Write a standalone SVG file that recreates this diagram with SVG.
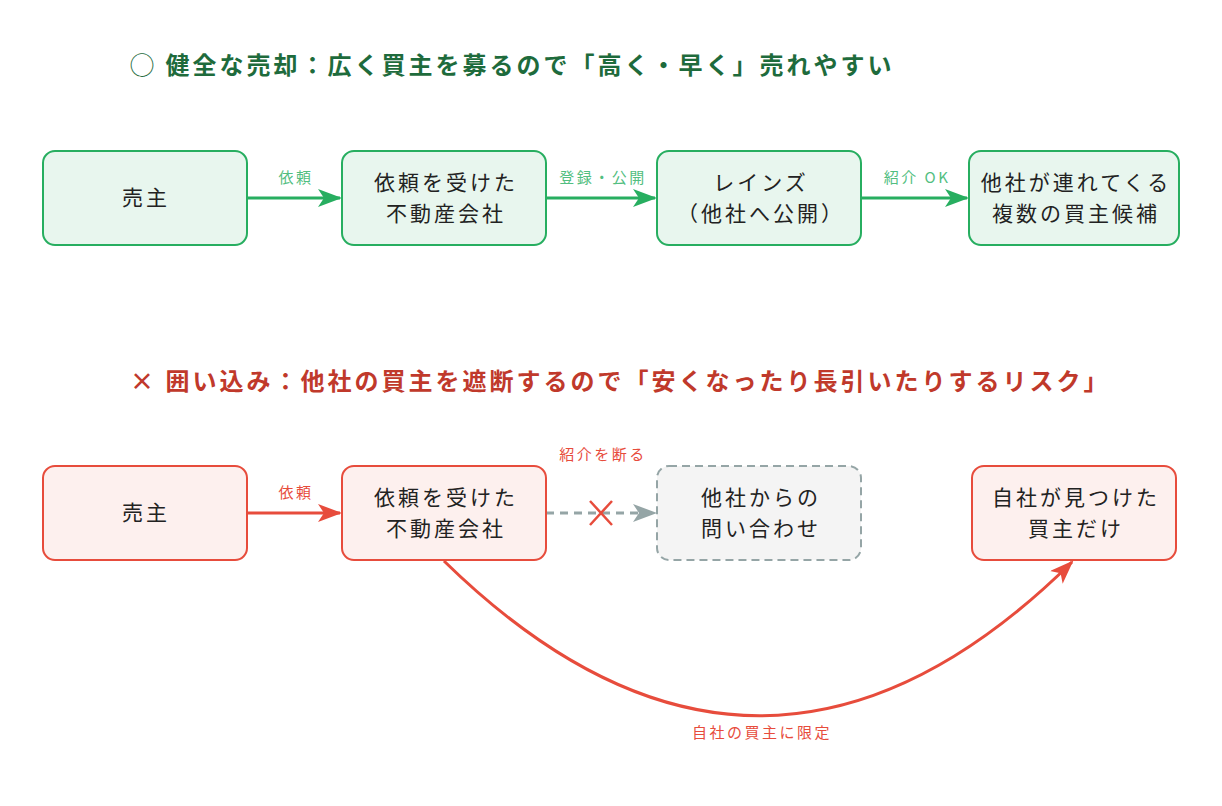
<svg xmlns="http://www.w3.org/2000/svg" width="1222" height="806" viewBox="0 0 1222 806">
<style>
text{font-family:"Noto Sans CJK JP","Noto Sans",sans-serif}
.t{font-size:24px;font-weight:bold;letter-spacing:3px}
.n{font-size:21px;fill:#222;text-anchor:middle;letter-spacing:3px}
.g{fill:#e8f6ee;stroke:#27ae60;stroke-width:2}
.r{fill:#fdf0ee;stroke:#e74c3c;stroke-width:2}
.d{fill:#f4f4f4;stroke:#95a5a6;stroke-width:2;stroke-dasharray:8 5}
.lg{font-size:15px;fill:#52be80;text-anchor:middle;letter-spacing:2.5px}
.lr{font-size:15px;fill:#e74c3c;text-anchor:middle;letter-spacing:2.5px}
</style>
<defs>
<marker id="ag" viewBox="0 0 24 18" refX="22" refY="9" markerWidth="24" markerHeight="18" markerUnits="userSpaceOnUse" orient="auto"><path d="M0,0L24,9L0,18L6,9Z" fill="#27ae60"/></marker>
<marker id="ar" viewBox="0 0 24 18" refX="22" refY="9" markerWidth="24" markerHeight="18" markerUnits="userSpaceOnUse" orient="auto"><path d="M0,0L24,9L0,18L6,9Z" fill="#e74c3c"/></marker>
<marker id="ay" viewBox="0 0 24 18" refX="22" refY="9" markerWidth="24" markerHeight="18" markerUnits="userSpaceOnUse" orient="auto"><path d="M0,0L24,9L0,18L6,9Z" fill="#95a5a6"/></marker>
</defs>
<rect width="1222" height="806" fill="#fff"/>
<text class="t" x="130" y="74" fill="#1e6b3c">◯ 健全な売却：広く買主を募るので「高く・早く」売れやすい</text>
<text class="t" x="130" y="390" fill="#c0392b">× 囲い込み：他社の買主を遮断するので「安くなったり長引いたりするリスク」</text>
<g id="connectors">
<line x1="247" y1="198" x2="340" y2="198" stroke="#27ae60" stroke-width="3" marker-end="url(#ag)"/>
<line x1="546" y1="198" x2="655" y2="198" stroke="#27ae60" stroke-width="3" marker-end="url(#ag)"/>
<line x1="861" y1="198" x2="967" y2="198" stroke="#27ae60" stroke-width="3" marker-end="url(#ag)"/>
<text class="lg" x="296" y="183">依頼</text>
<text class="lg" x="603" y="183">登録・公開</text>
<text class="lg" x="917" y="183">紹介 OK</text>
<line x1="247" y1="513" x2="340" y2="513" stroke="#e74c3c" stroke-width="3" marker-end="url(#ar)"/>
<text class="lr" x="296" y="498">依頼</text>
<line x1="546" y1="513" x2="655" y2="513" stroke="#95a5a6" stroke-width="3" stroke-dasharray="8 6" marker-end="url(#ay)"/>
<path d="M590,501L612,525M612,501L590,525" stroke="#e74c3c" stroke-width="2.5"/>
<text class="lr" x="603" y="460">紹介を断る</text>
<path d="M444,561Q760,870 1072,562" fill="none" stroke="#e74c3c" stroke-width="3" marker-end="url(#ar)"/>
<text class="lr" x="762" y="738">自社の買主に限定</text>
</g>
<g id="n1"><rect class="g" x="43" y="151" width="204" height="94" rx="12"/><text class="n" x="146" y="205">売主</text></g>
<g id="n2"><rect class="g" x="342" y="151" width="204" height="94" rx="12"/><text class="n" x="446" y="190">依頼を受けた</text><text class="n" x="446" y="221">不動産会社</text></g>
<g id="n3"><rect class="g" x="657" y="151" width="204" height="94" rx="12"/><text class="n" x="761" y="190">レインズ</text><text class="n" x="761" y="221">（他社へ公開）</text></g>
<g id="n4"><rect class="g" x="969" y="151" width="210" height="94" rx="12"/><text class="n" x="1076" y="190">他社が連れてくる</text><text class="n" x="1076" y="221">複数の買主候補</text></g>
<g id="m1"><rect class="r" x="43" y="466" width="204" height="94" rx="12"/><text class="n" x="146" y="520">売主</text></g>
<g id="m2"><rect class="r" x="342" y="466" width="204" height="94" rx="12"/><text class="n" x="446" y="505">依頼を受けた</text><text class="n" x="446" y="536">不動産会社</text></g>
<g id="m3"><rect class="d" x="657" y="466" width="204" height="94" rx="12"/><text class="n" x="761" y="505">他社からの</text><text class="n" x="761" y="536">問い合わせ</text></g>
<g id="m4"><rect class="r" x="972" y="466" width="204" height="94" rx="12"/><text class="n" x="1076" y="505">自社が見つけた</text><text class="n" x="1076" y="536">買主だけ</text></g>
</svg>
